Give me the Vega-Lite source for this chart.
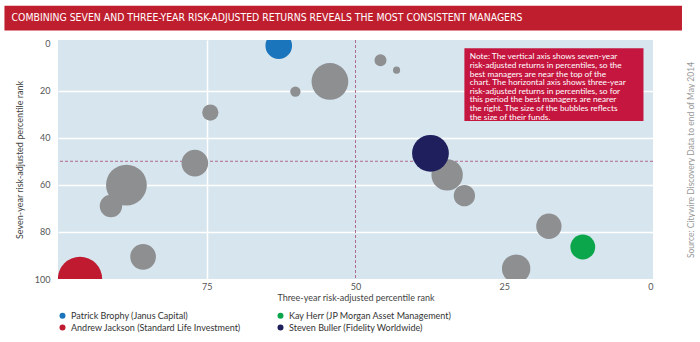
{
  "$schema": "https://vega.github.io/schema/vega-lite/v6.json",
  "padding": {"left": 4, "top": 5, "right": 0, "bottom": 0},
  "background": "white",
  "config": {"font": "Lato", "view": {"stroke": null}},
  "width": 595,
  "height": 239,
  "view": {"fill": "#d6e5ee", "stroke": null},
  "resolve": {"axis": {"y": "independent"}},
  "layer": [
    {
      "data": {"values": [{"banner": "COMBINING SEVEN AND THREE-YEAR RISK-ADJUSTED RETURNS REVEALS THE MOST CONSISTENT MANAGERS"}]},
      "mark": {"type": "rect", "color": "#bf1e2e"},
      "encoding": {
        "x": {"datum": 109.0, "type": "quantitative", "scale": {"domain": [0, 100], "reverse": true, "nice": false}},
        "x2": {"datum": -4.87},
        "y": {"datum": -16.0, "type": "quantitative", "scale": {"domain": [-1.5, 100], "reverse": true, "nice": false, "zero": false}, "axis": null},
        "y2": {"datum": -5.5}
      }
    },
    {
      "data": {"values": [{"banner": "COMBINING SEVEN AND THREE-YEAR RISK-ADJUSTED RETURNS REVEALS THE MOST CONSISTENT MANAGERS"}]},
      "mark": {"type": "text", "font": "DejaVu Sans Condensed, Roboto", "fontSize": 10.4, "color": "white", "align": "left", "baseline": "middle"},
      "encoding": {
        "text": {"field": "banner"},
        "x": {"datum": 107.8, "type": "quantitative"},
        "y": {"datum": -10.8, "type": "quantitative", "axis": null}
      }
    },
    {
      "data": {"values": [{"median": 50}]},
      "mark": {"type": "rule", "color": "#b06a8e", "strokeDash": [3, 2], "strokeWidth": 1},
      "encoding": {
        "x": {"field": "median", "type": "quantitative"}
      }
    },
    {
      "data": {"values": [{"median": 50}]},
      "mark": {"type": "rule", "color": "#b06a8e", "strokeDash": [3, 2], "strokeWidth": 1},
      "encoding": {
        "y": {"field": "median", "type": "quantitative",
          "axis": {"orient": "right", "title": "Source: Citywire Discovery Data to end of May 2014", "labels": false, "ticks": false, "domain": false, "grid": false, "titleAngle": 270, "titlePadding": 42, "titleFontSize": 8.5, "titleColor": "#999999", "titleFontWeight": "normal"}}
      }
    },
    {
      "data": {"values": [
        {"three": 60.1, "seven": 20.4, "fund": 34, "manager": "Other"},
        {"three": 54.3, "seven": 16.1, "fund": 430, "manager": "Other"},
        {"three": 74.4, "seven": 29.3, "fund": 84, "manager": "Other"},
        {"three": 77.0, "seven": 50.8, "fund": 225, "manager": "Other"},
        {"three": 91.1, "seven": 69.0, "fund": 160, "manager": "Other"},
        {"three": 88.5, "seven": 60.1, "fund": 530, "manager": "Other"},
        {"three": 85.7, "seven": 90.6, "fund": 210, "manager": "Other"},
        {"three": 45.8, "seven": 7.1, "fund": 46, "manager": "Other"},
        {"three": 43.1, "seven": 11.3, "fund": 16, "manager": "Other"},
        {"three": 34.6, "seven": 55.8, "fund": 313, "manager": "Other"},
        {"three": 31.7, "seven": 64.6, "fund": 144, "manager": "Other"},
        {"three": 17.5, "seven": 77.6, "fund": 204, "manager": "Other"},
        {"three": 23.0, "seven": 95.6, "fund": 256, "manager": "Other"},
        {"three": 62.9, "seven": 0.9, "fund": 225, "manager": "Patrick Brophy (Janus Capital)"},
        {"three": 96.3, "seven": 100, "fund": 625, "manager": "Andrew Jackson (Standard Life Investment)"},
        {"three": 11.8, "seven": 86.4, "fund": 196, "manager": "Kay Herr (JP Morgan Asset Management)"},
        {"three": 37.4, "seven": 46.6, "fund": 430, "manager": "Steven Buller (Fidelity Worldwide)"}
      ]},
      "mark": {"type": "circle", "opacity": 1, "clip": true},
      "encoding": {
        "x": {"field": "three", "type": "quantitative",
          "axis": {"values": [75, 50, 25, 0], "title": "Three-year risk-adjusted percentile rank", "grid": true, "gridColor": "white", "gridWidth": 1.5,
            "gridOpacity": {"condition": {"test": "datum.value === 75", "value": 1}, "value": 0},
            "domain": false, "ticks": false, "labelPadding": 3, "labelFontSize": 9, "labelColor": "#555555", "titleFontSize": 9, "titleFontWeight": "normal", "titleColor": "#444444", "titlePadding": 2}},
        "y": {"field": "seven", "type": "quantitative",
          "axis": {"orient": "left", "values": [0, 20, 40, 60, 80, 100], "title": "Seven-year risk-adjusted percentile rank", "grid": true, "gridColor": "white", "gridWidth": 1.5,
            "gridOpacity": {"condition": {"test": "datum.value === 0 || datum.value === 100", "value": 0}, "value": 1},
            "domain": false, "ticks": false, "labelPadding": 8, "labelFontSize": 9, "labelColor": "#555555", "titleFontSize": 9, "titleFontWeight": "normal", "titleColor": "#444444", "titlePadding": 10}},
        "size": {"field": "fund", "type": "quantitative", "scale": {"domain": [0, 1000], "range": [0, 3141.6], "zero": true}, "legend": null},
        "color": {"field": "manager", "type": "nominal",
          "scale": {"domain": ["Patrick Brophy (Janus Capital)", "Andrew Jackson (Standard Life Investment)", "Kay Herr (JP Morgan Asset Management)", "Steven Buller (Fidelity Worldwide)", "Other"],
            "range": ["#1b75bc", "#c01a30", "#0ba64b", "#1e1f5c", "#8e8f91"]},
          "legend": {"values": ["Patrick Brophy (Janus Capital)", "Andrew Jackson (Standard Life Investment)", "Kay Herr (JP Morgan Asset Management)", "Steven Buller (Fidelity Worldwide)"],
            "orient": "none", "legendX": 0, "legendY": 271, "columns": 2, "title": null, "symbolType": "circle", "symbolSize": 36, "labelFontSize": 9, "labelColor": "#333333", "labelLimit": 300, "columnPadding": 35, "rowPadding": 2}}
      }
    },
    {
      "data": {"values": [{"box": "note"}]},
      "mark": {"type": "rect", "color": "#c5163f"},
      "encoding": {
        "x": {"datum": 31.7, "type": "quantitative"},
        "x2": {"datum": 1.6},
        "y": {"datum": 2.0, "type": "quantitative", "axis": null},
        "y2": {"datum": 32.9}
      }
    },
    {
      "data": {"values": [{"note": "Note: The vertical axis shows seven-year\nrisk-adjusted returns in percentiles, so the\nbest managers are near the top of the\nchart. The horizontal axis shows three-year\nrisk-adjusted returns in percentiles, so for\nthis period the best managers are nearer\nthe right. The size of the bubbles reflects\nthe size of their funds."}]},
      "mark": {"type": "text", "color": "white", "align": "left", "baseline": "top", "fontSize": 8.3, "lineHeight": 8.6, "lineBreak": "\n"},
      "encoding": {
        "text": {"field": "note"},
        "x": {"datum": 30.8, "type": "quantitative"},
        "y": {"datum": 3.8, "type": "quantitative", "axis": null}
      }
    }
  ]
}
